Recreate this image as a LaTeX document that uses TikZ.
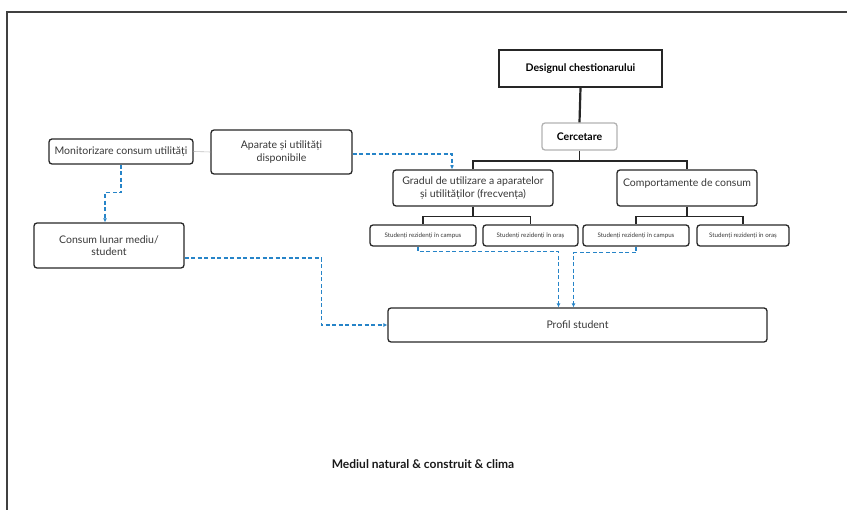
\documentclass[tikz,border=0pt]{standalone}
\usepackage{fontspec}
\setmainfont{Lato}
\usepackage{tikz}
\usetikzlibrary{calc,shapes,positioning}
\usetikzlibrary{arrows.meta}
\definecolor{flowblue}{RGB}{38,132,200}
\definecolor{txtgrey}{RGB}{55,55,55}
\tikzset{>={Latex[width=1.4mm,length=1.4mm]}}

\begin{document}
\begin{tikzpicture}[x=1pt,y=-1pt]
        \tikzstyle{bnode} = [line width=1.3pt, draw=black!85, rectangle, rounded corners = 3pt, inner sep = 2pt, align=center, text=txtgrey, font=\fontsize{10.5}{12.5}\selectfont]
        \tikzstyle{snode} = [bnode, font=\fontsize{6.2}{7}\selectfont, minimum height=21pt]
        \tikzstyle{tree} = [line width=1.6pt, black!85]
        \tikzstyle{flow} = [->, line width=1.1pt, flowblue, dash pattern=on 4pt off 2.5pt]

        \useasboundingbox (0,0) rectangle (847,510);
        \draw[line width=1.3pt, black!75] (847,12) -- (7,12) -- (7,510);

        \node[bnode, rounded corners=0pt, line width=1.8pt, minimum width=163pt, minimum height=37pt, font=\fontsize{10.5}{12.5}\selectfont\bfseries, text=black] (des) at (580.5,68.5) {Designul chestionarului};
        \node[bnode, draw=black!30, minimum width=75pt, minimum height=27pt, font=\fontsize{10.5}{12.5}\selectfont\bfseries, text=black] (cer) at (579.5,136.5) {Cercetare};
        \node[bnode, minimum width=160pt, minimum height=36pt] (gra) at (473,188) {Gradul de utilizare a aparatelor\\și utilităților (frecvența)};
        \node[bnode, minimum width=140pt, minimum height=36pt, text depth=10pt] (com) at (687,188) {Comportamente de consum};

        \node[snode, minimum width=106pt] (s11) at (423,235.5) {Studenți rezidenți în campus};
        \node[snode, minimum width=95pt] (s12) at (530.5,235.5) {Studenți rezidenți în oraș};
        \node[snode, minimum width=106pt] (s21) at (636,235.5) {Studenți rezidenți în campus};
        \node[snode, minimum width=92pt] (s22) at (743,235.5) {Studenți rezidenți în oraș};

        \node[bnode, minimum width=144pt, minimum height=25pt] (mon) at (121,151.5) {Monitorizare consum utilități};
        \node[bnode, minimum width=141pt, minimum height=44pt] (apa) at (281.5,152) {Aparate și utilități\\disponibile};
        \node[bnode, minimum width=150pt, minimum height=45pt] (con) at (109,245.5) {Consum lunar mediu/\\student};
        \node[bnode, minimum width=379pt, minimum height=34pt] (pro) at (577.5,325) {Profil student};

        \node[font=\fontsize{12}{14}\selectfont\bfseries, text=black!90] (tit) at (423,464) {Mediul natural \& construit \& clima};

        \draw[line width=2.2pt, black!85] (des.south) -- (cer.north);
        \draw[tree] (cer.south) -- ++(0,10.5) -| (gra.north);
        \draw[tree] (cer.south) ++(0,10.5) -| (com.north);
        \draw[tree] (gra.south) -- ++(0,10) -| (s11.north);
        \draw[tree] (gra.south) ++(0,10) -| (s12.north);
        \draw[tree] (com.south) -- ++(0,10) -| (s21.north);
        \draw[tree] (com.south) ++(0,10) -| (s22.north);
        \draw[black!25, line width=0.6pt] (mon.east) -- (apa.west);

        \draw[flow] (mon.south) -- ++(0,28) -| ($(con.north)+(-4,0)$);
        \draw[flow] ([yshift=-2pt]apa.east) -| ($(gra.north)+(-21,0)$);
        \draw[flow] ([yshift=-12.5pt]con.east) -| ($(pro.west)+(-66,0)$) -- (pro.west);
        \draw[flow] ([xshift=-5pt]s11.south) -- ++(0,5) -| ($(pro.north)+(-19,0)$);
        \draw[flow] (s21.south) -- ++(0,6) -| ($(pro.north)+(-4,0)$);
      \end{tikzpicture}
\end{document}
